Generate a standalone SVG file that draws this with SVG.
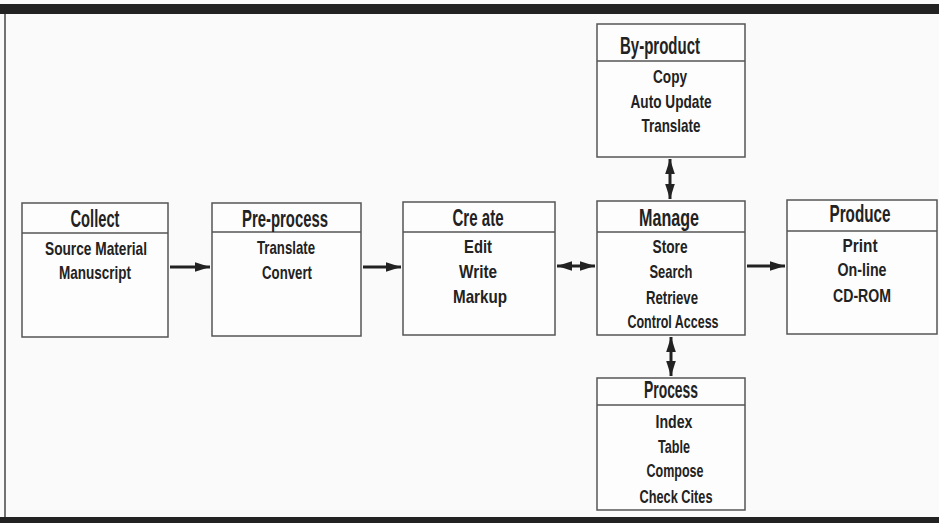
<svg xmlns="http://www.w3.org/2000/svg" width="939" height="523" viewBox="0 0 939 523">
<style>
.bg{fill:#fafafa}
.band{fill:#222}
.box{fill:#fdfdfd;stroke:#555;stroke-width:1.5}
.div{stroke:#555;stroke-width:1.5}
.h{font-family:"Liberation Sans",Arial,sans-serif;font-weight:bold;font-size:23px;fill:#222;text-anchor:middle}
.t{font-family:"Liberation Sans",Arial,sans-serif;font-weight:bold;font-size:19px;fill:#222;text-anchor:middle}
.c{stroke:#222;stroke-width:3;fill:none}
</style>
<defs>
<marker id="ah" viewBox="0 0 10 10" refX="10" refY="5" markerWidth="5" markerHeight="3.2" orient="auto-start-reverse" markerUnits="strokeWidth" preserveAspectRatio="none">
<path d="M0,0 L10,5 L0,10 Z" fill="#222"/>
</marker>
</defs>
<rect class="bg" x="0" y="0" width="939" height="523"/>
<rect class="band" x="0" y="4" width="939" height="10"/>
<rect class="band" x="0" y="517" width="939" height="6"/>
<line x1="5" y1="14" x2="5" y2="517" stroke="#444" stroke-width="1.5"/>

<g id="collect">
<rect class="box" x="22" y="203" width="146" height="134"/>
<line class="div" x1="22" y1="233" x2="168" y2="233"/>
<text class="h" x="95" y="227" textLength="49" lengthAdjust="spacingAndGlyphs">Collect</text>
<text class="t" x="96" y="255" textLength="102" lengthAdjust="spacingAndGlyphs">Source Material</text>
<text class="t" x="95" y="279" textLength="72" lengthAdjust="spacingAndGlyphs">Manuscript</text>
</g>

<g id="preprocess">
<rect class="box" x="212" y="203" width="149" height="133"/>
<line class="div" x1="212" y1="232" x2="361" y2="232"/>
<text class="h" x="285" y="227" textLength="86" lengthAdjust="spacingAndGlyphs">Pre-process</text>
<text class="t" x="286" y="254" textLength="58" lengthAdjust="spacingAndGlyphs">Translate</text>
<text class="t" x="287" y="279" textLength="50" lengthAdjust="spacingAndGlyphs">Convert</text>
</g>

<g id="create">
<rect class="box" x="403" y="202" width="152" height="133"/>
<line class="div" x1="403" y1="232" x2="555" y2="232"/>
<text class="h" x="478" y="226" textLength="51" lengthAdjust="spacingAndGlyphs">Cre ate</text>
<text class="t" x="478" y="253" textLength="28" lengthAdjust="spacingAndGlyphs">Edit</text>
<text class="t" x="478" y="278" textLength="38" lengthAdjust="spacingAndGlyphs">Write</text>
<text class="t" x="480" y="303" textLength="54" lengthAdjust="spacingAndGlyphs">Markup</text>
</g>

<g id="manage">
<rect class="box" x="597" y="201" width="148" height="134"/>
<line class="div" x1="597" y1="232" x2="745" y2="232"/>
<text class="h" x="669" y="226" textLength="60" lengthAdjust="spacingAndGlyphs">Manage</text>
<text class="t" x="670" y="253" textLength="35" lengthAdjust="spacingAndGlyphs">Store</text>
<text class="t" x="671" y="278" textLength="43" lengthAdjust="spacingAndGlyphs">Search</text>
<text class="t" x="672" y="304" textLength="52" lengthAdjust="spacingAndGlyphs">Retrieve</text>
<text class="t" x="673" y="328" textLength="91" lengthAdjust="spacingAndGlyphs">Control Access</text>
</g>

<g id="produce">
<rect class="box" x="787" y="200" width="150" height="134"/>
<line class="div" x1="787" y1="231" x2="937" y2="231"/>
<text class="h" x="860" y="222" textLength="61" lengthAdjust="spacingAndGlyphs">Produce</text>
<text class="t" x="860" y="252" textLength="35" lengthAdjust="spacingAndGlyphs">Print</text>
<text class="t" x="862" y="276" textLength="49" lengthAdjust="spacingAndGlyphs">On-line</text>
<text class="t" x="862" y="302" textLength="58" lengthAdjust="spacingAndGlyphs">CD-ROM</text>
</g>

<g id="byproduct">
<rect class="box" x="597" y="24" width="148" height="133"/>
<line class="div" x1="597" y1="61" x2="745" y2="61"/>
<text class="h" x="660" y="54" textLength="80" lengthAdjust="spacingAndGlyphs">By-product</text>
<text class="t" x="670" y="83" textLength="34" lengthAdjust="spacingAndGlyphs">Copy</text>
<text class="t" x="671" y="108" textLength="81" lengthAdjust="spacingAndGlyphs">Auto Update</text>
<text class="t" x="671" y="132" textLength="59" lengthAdjust="spacingAndGlyphs">Translate</text>
</g>

<g id="process">
<rect class="box" x="597" y="378" width="148" height="132"/>
<line class="div" x1="597" y1="405" x2="745" y2="405"/>
<text class="h" x="671" y="398" textLength="54" lengthAdjust="spacingAndGlyphs">Process</text>
<text class="t" x="674" y="428" textLength="37" lengthAdjust="spacingAndGlyphs">Index</text>
<text class="t" x="674" y="453" textLength="32" lengthAdjust="spacingAndGlyphs">Table</text>
<text class="t" x="675" y="477" textLength="57" lengthAdjust="spacingAndGlyphs">Compose</text>
<text class="t" x="676" y="503" textLength="73" lengthAdjust="spacingAndGlyphs">Check Cites</text>
</g>

<g id="connectors">
<line class="c" x1="170" y1="267" x2="210" y2="267" marker-end="url(#ah)"/>
<line class="c" x1="363" y1="267" x2="401" y2="267" marker-end="url(#ah)"/>
<line class="c" x1="557" y1="266" x2="595" y2="266" marker-start="url(#ah)" marker-end="url(#ah)"/>
<line class="c" x1="747" y1="266" x2="785" y2="266" marker-end="url(#ah)"/>
<line class="c" x1="670" y1="159" x2="670" y2="199" marker-start="url(#ah)" marker-end="url(#ah)"/>
<line class="c" x1="671" y1="337" x2="671" y2="376" marker-start="url(#ah)" marker-end="url(#ah)"/>
</g>
</svg>
